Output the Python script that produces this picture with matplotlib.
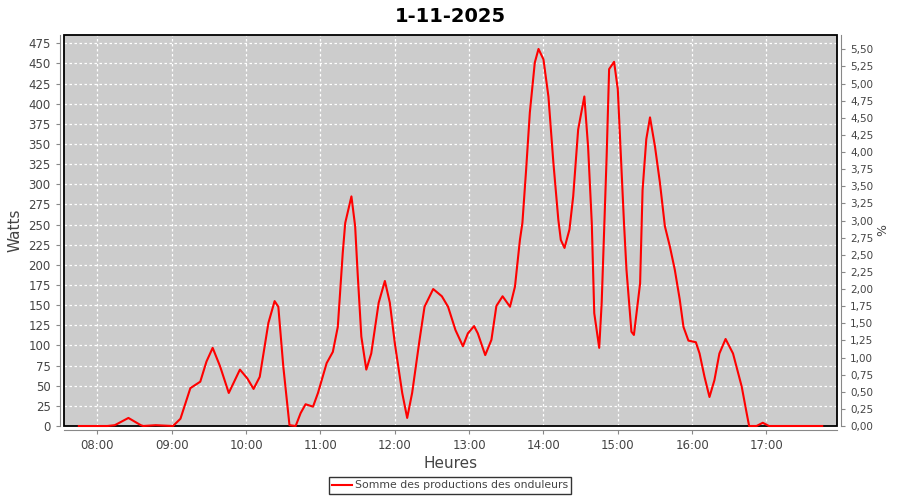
#!/usr/bin/env python3
import pandas as pd
import matplotlib
matplotlib.use('Agg')
import matplotlib.pyplot as plt
import matplotlib.dates as mdates
from matplotlib.patches import Rectangle
from matplotlib.ticker import MultipleLocator, FuncFormatter

# heure de la mesure et puissance totale (W)
heures = ['07:45', '08:08', '08:14', '08:25', '08:35', '08:37', '08:47', '09:01',
          '09:07', '09:15', '09:23', '09:28', '09:33', '09:39', '09:46', '09:55',
          '10:01', '10:06', '10:11', '10:18', '10:23', '10:26', '10:30', '10:35',
          '10:40', '10:44', '10:48', '10:54', '10:58', '11:05', '11:10', '11:14',
          '11:18', '11:20', '11:25', '11:28', '11:30', '11:33', '11:37', '11:41',
          '11:47', '11:52', '11:56', '12:00', '12:06', '12:10', '12:14', '12:20',
          '12:24', '12:31', '12:38', '12:43', '12:49', '12:55', '12:59', '13:04',
          '13:07', '13:13', '13:18', '13:22', '13:27', '13:33', '13:37', '13:41',
          '13:43', '13:46', '13:49', '13:53', '13:56', '14:00', '14:04', '14:08',
          '14:12', '14:14', '14:17', '14:21', '14:24', '14:28', '14:33', '14:36',
          '14:39', '14:41', '14:45', '14:47', '14:49', '14:51', '14:53', '14:57',
          '15:00', '15:03', '15:05', '15:07', '15:11', '15:13', '15:18', '15:20',
          '15:23', '15:26', '15:30', '15:34', '15:38', '15:42', '15:46', '15:50',
          '15:53', '15:57', '16:03', '16:06', '16:10', '16:14', '16:18', '16:22',
          '16:27', '16:33', '16:40', '16:44', '16:46', '16:52', '16:57', '17:02',
          '17:45']
watts = [0, 0, 1, 10, 1, 0, 1, 0,
         9, 47, 55, 80, 97, 74, 41, 70,
         59, 46, 61, 128, 155, 148, 74, 1,
         0, 16, 27, 24, 41, 78, 92, 123,
         215, 252, 285, 248, 190, 111, 70, 90,
         153, 180, 153, 103, 41, 10, 41, 107,
         148, 170, 161, 148, 119, 99, 115, 124,
         115, 88, 107, 149, 161, 148, 173, 231,
         252, 318, 389, 451, 468, 455, 409, 327,
         256, 231, 221, 244, 285, 368, 409, 347,
         252, 140, 97, 153, 244, 335, 443, 452,
         418, 318, 252, 194, 117, 113, 177, 293,
         356, 383, 347, 302, 248, 223, 194, 157,
         123, 106, 104, 90, 61, 36, 57, 90,
         108, 90, 49, 16, 0, 0, 4, 0,
         0]
titre = '1-11-2025'
serie = 'Somme des productions des onduleurs'

t = pd.to_datetime(['2025-11-01 ' + h for h in heures])

plt.rcParams['font.family'] = ['DejaVu Sans']
fig = plt.figure(figsize=(9, 5), dpi=100)
ax = fig.add_axes([0.0711, 0.148, 0.859, 0.782])
ax.set_facecolor('#cccccc')

# trace au-dessus du cadre pour que la ligne a 0 W reste visible
ax.plot(t, watts, color='#ff0000', lw=1.5, label=serie, zorder=6, clip_on=False)

ax.set_xlim(pd.Timestamp('2025-11-01 07:33'), pd.Timestamp('2025-11-01 17:57'))
ax.set_ylim(0, 485.3)
ax.yaxis.set_major_locator(MultipleLocator(25))
ax.xaxis.set_major_locator(mdates.HourLocator())
ax.xaxis.set_major_formatter(mdates.DateFormatter('%H:%M'))

ax.grid(True, color='white', linestyle=(0, (2, 2)), lw=0.9)
ax.set_axisbelow(True)

for s in ['left', 'bottom']:
    ax.spines[s].set_position(('outward', 3))
    ax.spines[s].set_color('#888888')
for s in ['top', 'right']:
    ax.spines[s].set_visible(False)
ax.add_patch(Rectangle((0, 0), 1, 1, transform=ax.transAxes, fill=False,
                       edgecolor='black', lw=1.3, clip_on=False, zorder=5))
ax.tick_params(colors='#888888', labelcolor='#444444', labelsize=8.5, length=3)

ax.set_xlabel('Heures', fontsize=11, color='#444444', labelpad=3)
ax.set_ylabel('Watts', fontsize=11, color='#444444', labelpad=4)

# axe de droite en %
ax2 = ax.twinx()
ax2.set_ylim(0, 5.71)
ax2.yaxis.set_major_locator(MultipleLocator(0.25))
ax2.yaxis.set_major_formatter(FuncFormatter(lambda v, p: f'{v:.2f}'.replace('.', ',')))
for s in ['left', 'top', 'bottom']:
    ax2.spines[s].set_visible(False)
ax2.spines['right'].set_position(('outward', 3))
ax2.spines['right'].set_color('#888888')
ax2.tick_params(colors='#888888', labelcolor='#444444', labelsize=7.5, length=3)
ax2.set_ylabel('%', fontsize=9, color='#444444', labelpad=2)
ax.set_zorder(ax2.get_zorder() + 1)
ax.patch.set_visible(True)
ax2.patch.set_visible(False)

fig.suptitle(titre, fontsize=14, fontweight='bold', y=0.985)

leg = fig.legend(loc='lower center', bbox_to_anchor=(0.5, 0.002), fontsize=7.8,
                 frameon=True, fancybox=False, edgecolor='black', handlelength=1.8,
                 borderpad=0.3, handletextpad=0.3)
leg.get_frame().set_linewidth(1)
for txt in leg.get_texts():
    txt.set_color('#444444')

fig.savefig('out.png', dpi=100)
